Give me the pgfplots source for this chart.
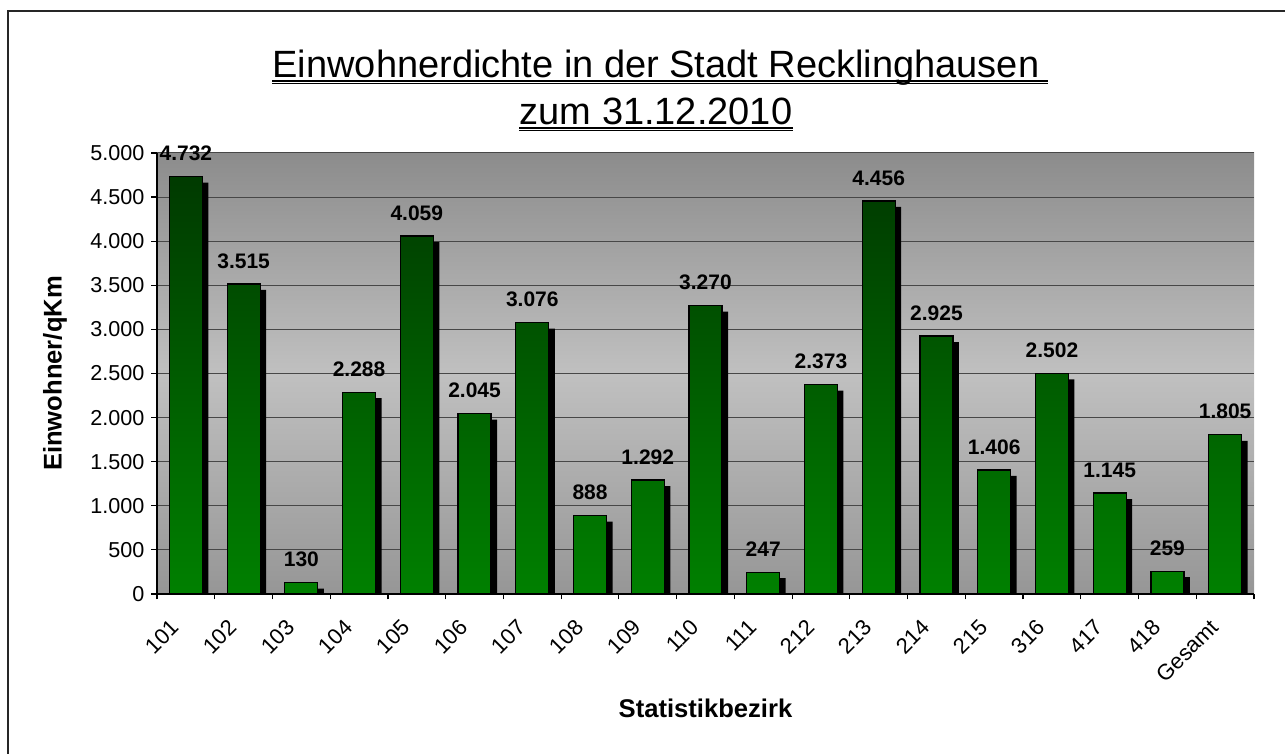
\documentclass[border=0pt]{standalone}
\usepackage{fontspec}
\setmainfont{Liberation Sans}
\usepackage{pgfplots}
\pgfplotsset{compat=1.18}

\definecolor{bardark}{RGB}{0,58,0}
\definecolor{barlight}{RGB}{0,128,0}
\definecolor{bgtop}{RGB}{140,140,140}
\definecolor{bgmid}{RGB}{192,192,192}
\definecolor{bgbot}{RGB}{150,150,150}

\pgfplotstableread{
x val
0 4732
1 3515
2 130
3 2288
4 4059
5 2045
6 3076
7 888
8 1292
9 3270
10 247
11 2373
12 4456
13 2925
14 1406
15 2502
16 1145
17 259
18 1805
}\data

\begin{document}
\begin{tikzpicture}
\useasboundingbox (-78.5pt,-80pt) rectangle (564pt,297pt);
\draw[line width=0.6pt, black!85] (-74.5pt,-100pt) -- (-74.5pt,291.5pt) -- (700pt,291.5pt);
\begin{axis}[
  at={(0,0)}, anchor=south west,
  scale only axis, width=548.5pt, height=220.5pt,
  xmin=-0.5, xmax=18.5, ymin=0, ymax=5000,
  /pgf/number format/.cd, 1000 sep={.}, assume math mode=true, /pgfplots/.cd,
  scaled y ticks=false,
  axis x line*=bottom, axis y line*=left,
  axis line style={black, line width=0.6pt},
  tick align=outside, major tick length=2.75pt,
  tick style={black, line width=0.6pt},
  ytick={0,500,...,5000},
  ymajorgrids, major grid style={black!72, line width=0.5pt},
  xtick={-0.5,0.5,...,18.5}, xticklabels={},
  extra x ticks={0,1,...,18},
  extra x tick labels={101,102,103,104,105,106,107,108,109,110,111,212,213,214,215,316,417,418,Gesamt},
  extra x tick style={major tick length=0pt, grid=none},
  xticklabel style={xshift=-4.5pt, yshift=-14pt, rotate=45, anchor=east, font=\fontsize{11}{13}\selectfont, inner sep=1pt},
  yticklabel style={font=\fontsize{10.8}{13}\selectfont},
  axis background/.style={top color=bgtop, bottom color=bgbot, middle color=bgmid},
  every axis x label/.style={at={(rel axis cs:0.5,0)}, yshift=-57pt, anchor=center, font=\fontsize{12.8}{15}\selectfont\bfseries},
  every axis y label/.style={at={(rel axis cs:0,0.5)}, xshift=-51pt, rotate=90, anchor=center, font=\fontsize{12.8}{15}\selectfont\bfseries},
  xlabel={Statistikbezirk},
  ylabel={Einwohner/qKm},
]
\addplot[ybar, bar width=16.5pt, bar shift=0pt, fill=black, draw=none,
  transform canvas={xshift=3pt, yshift=-3pt}] table[x=x, y=val] {\data};
\addplot[ybar, bar width=16.5pt, bar shift=0pt, draw=black, line width=0.6pt,
  top color=bardark, bottom color=barlight,
  nodes near coords,
  every node near coord/.append style={font=\fontsize{10.5}{12}\selectfont\bfseries, anchor=south, inner sep=0pt, yshift=7.5pt, text=black}] table[x=x, y=val] {\data};
\end{axis}
\node[font=\fontsize{19}{22}\selectfont, anchor=base, inner sep=0pt] (t1) at (249.5pt,258pt) {Einwohnerdichte in der Stadt Recklinghausen};
\draw[line width=1pt] ([yshift=-1.75pt]t1.base west) -- ([yshift=-1.75pt,xshift=4pt]t1.base east);
\draw[line width=0.5pt] ([yshift=-3pt]t1.base west) -- ([yshift=-3pt,xshift=4pt]t1.base east);
\node[font=\fontsize{19}{22}\selectfont, anchor=base, inner sep=0pt] (t2) at (249.5pt,234.5pt) {zum 31.12.2010};
\draw[line width=1pt] ([yshift=-1.75pt]t2.base west) -- ([yshift=-1.75pt]t2.base east);
\draw[line width=0.5pt] ([yshift=-3pt]t2.base west) -- ([yshift=-3pt]t2.base east);
\end{tikzpicture}
\end{document}
